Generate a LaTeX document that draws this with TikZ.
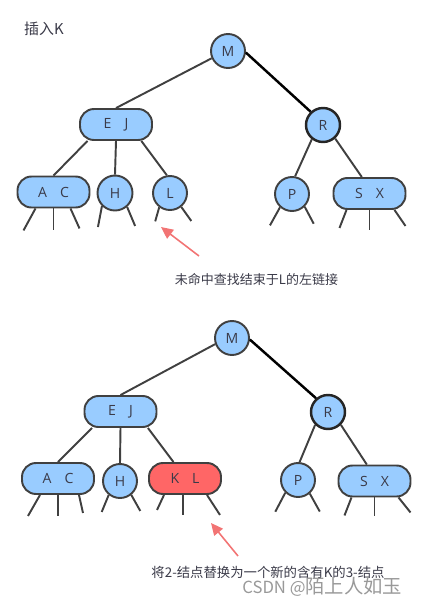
\documentclass[tikz,border=0pt]{standalone}
\usepackage{fontspec}
\setmainfont{Open Sans}
\newfontfamily\cjk{Noto Sans CJK SC}
\usetikzlibrary{arrows.meta,calc}

\definecolor{nodeblue}{HTML}{99CCFF}
\definecolor{nodered}{HTML}{FF6666}
\definecolor{linegray}{HTML}{404040}
\definecolor{textgray}{HTML}{3A3A48}
\definecolor{arrowred}{HTML}{F27474}

\tikzset{
  twonode/.style={circle, draw=linegray, fill=nodeblue, line width=1.1pt,
    minimum size=0.68cm, inner sep=0pt, text=textgray,
    font=\fontsize{8}{9}\selectfont},
  threenode/.style={rectangle, rounded corners=0.28cm, draw=linegray,
    fill=nodeblue, line width=1.1pt, minimum width=1.44cm,
    minimum height=0.62cm, inner sep=0pt, text=textgray,
    font=\fontsize{8}{9}\selectfont},
  link/.style={draw=linegray, line width=1.1pt},
  searchlink/.style={draw=black, line width=1.4pt},
  pointer/.style={draw=arrowred, line width=0.9pt,
    -{Triangle[length=0.24cm, width=0.22cm]}},
  note/.style={font=\cjk\fontsize{7.4}{9}\selectfont, text=textgray}
}

\begin{document}
\begin{tikzpicture}[x=0.02cm, y=-0.02cm]
  \useasboundingbox (0,0) rectangle (435,606);

  %%%%% before the insert %%%%%
  \node[note, anchor=west, font=\cjk\fontsize{8.5}{10}\selectfont] (title) at (18,29) {插入K};

  \node[twonode] (m1) at (228,51) {M};
  \node[threenode] (ej1) at (116,124.5) {E\hspace{2.6mm}J};
  \node[twonode, line width=1.4pt, draw=black!85] (r1) at (323,125) {R};
  \node[threenode] (ac1) at (53.5,192) {A\hspace{2.6mm}C};
  \node[twonode, minimum size=0.7cm] (h1) at (115,193) {H};
  \node[twonode] (l1) at (170,193) {L};
  \node[twonode] (p1) at (292,194) {P};
  \node[threenode] (sx1) at (369.5,193.5) {S\hspace{2.6mm}X};

  \draw[link] (m1.-156) -- (ej1.north);
  \draw[searchlink] (m1.-5) -- (r1.133);
  \draw[link] (ej1.-150) -- (ac1.north);
  \draw[link] (ej1.south) -- (h1.north);
  \draw[link] (ej1.-33) -- (l1.100);
  \draw[link] (r1.-128) -- (p1.80);
  \draw[link] (r1.-48) -- (sx1.115);

  % null links
  \foreach \n/\a/\dx/\dy in {h1/-135/-4/21, h1/-49/8/19, l1/-127/-4/14, l1/-51/10/14,
                             p1/-132/-10/18, p1/-45/9/17}
    \draw[link] (\n.\a) -- ++(\dx,\dy);
  \foreach \n/\ox/\dx/\dy in {ac1/-18/-12/22, ac1/0/0/22, ac1/17/9/20,
                              sx1/-23/-7/18, sx1/0/0/20, sx1/25/11/16}
    \draw[link] ($(\n.south)+(\ox,0)$) -- ++(\dx,\dy);

  \coordinate (tail1) at (199,256);
  \coordinate (tip1) at (161,227);
  \draw[pointer] (tail1) -- (tip1);
  \node[note] (miss) at (256.5,279) {未命中查找结束于L的左链接};

  %%%%% after the insert %%%%%
  \node[twonode] (m2) at (232,338) {M};
  \node[threenode] (ej2) at (120.5,411.5) {E\hspace{2.6mm}J};
  \node[twonode, line width=1.4pt, draw=black!85] (r2) at (328,412) {R};
  \node[threenode] (ac2) at (58,478.5) {A\hspace{2.6mm}C};
  \node[twonode] (h2) at (120,481) {H};
  \node[threenode, fill=nodered] (kl2) at (185,478.5) {K\hspace{2.6mm}L};
  \node[twonode] (p2) at (298,480) {P};
  \node[threenode] (sx2) at (374.5,481) {S\hspace{2.6mm}X};

  \draw[link] (m2.-160) -- (ej2.north);
  \draw[searchlink] (m2.-5) -- (r2.131);
  \draw[link] (ej2.-150) -- (ac2.north);
  \draw[link] (ej2.south) -- (h2.north);
  \draw[link] (ej2.-31) -- (kl2.125);
  \draw[link] (r2.-135) -- (p2.85);
  \draw[link] (r2.-45) -- (sx2.115);

  % null links
  \foreach \n/\a/\dx/\dy in {h2/-129/-7/17, h2/-51/9/16, p2/-135/-10/19, p2/-49/10/18}
    \draw[link] (\n.\a) -- ++(\dx,\dy);
  \foreach \n/\ox/\dx/\dy in {ac2/-18/-12/21, ac2/0/0/21, ac2/21/4/18,
                              kl2/-21/-7/15, kl2/-2/0/20, kl2/22/13/20,
                              sx2/-23/-7/18, sx2/0/0/19, sx2/24/12/15}
    \draw[link] ($(\n.south)+(\ox,0)$) -- ++(\dx,\dy);

  \coordinate (tail2) at (238,556);
  \coordinate (tip2) at (211,523);
  \draw[pointer] (tail2) -- (tip2);
  \node[note, font=\cjk\fontsize{7.6}{9}\selectfont] (split) at (268,572) {将2-结点替换为一个新的含有K的3-结点};

  \node[anchor=west, text=black!40, inner sep=0pt] (mark) at (242,587)
    {{\cjk\fontsize{9.5}{11}\selectfont CSDN @}{\cjk\fontsize{11}{12}\selectfont 陌上人如玉}};
\end{tikzpicture}
\end{document}
